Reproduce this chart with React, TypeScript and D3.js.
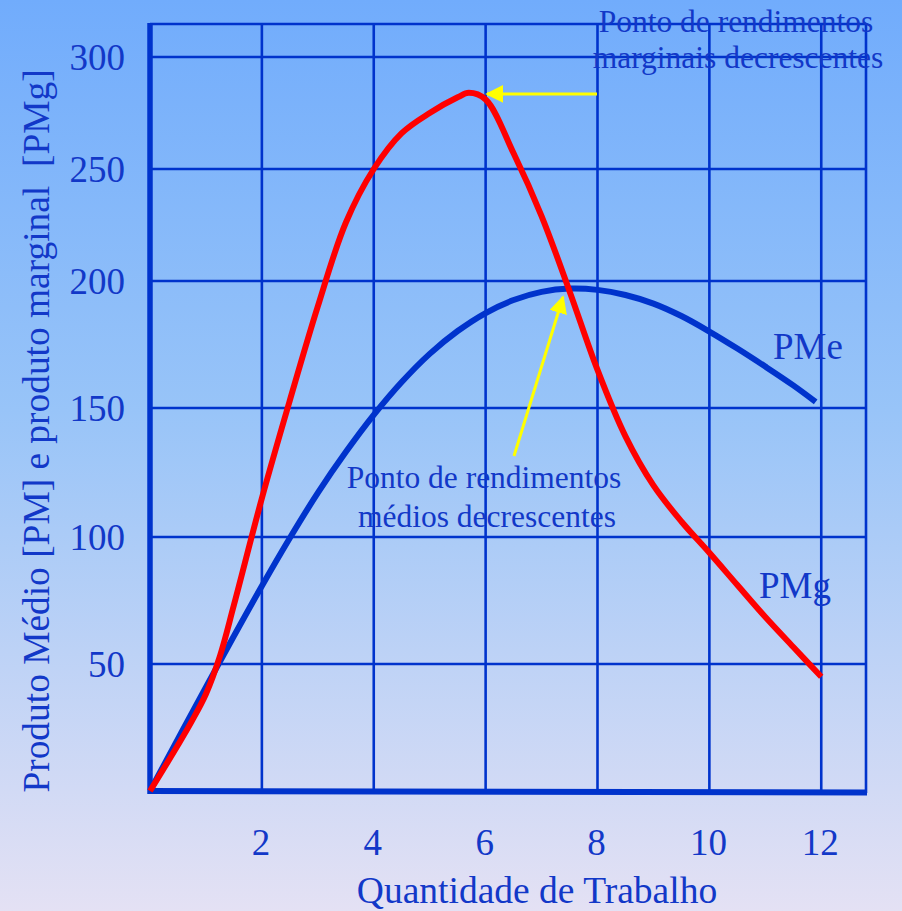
import React from "react";
import * as d3 from "d3";

const W = 902;
const H = 911;

// Data (x = quantidade de trabalho, value = produto)
const pmgX = [0, 0.5, 0.75, 1, 1.25, 1.5, 2, 2.5, 3, 3.5, 4, 4.5, 5, 5.5, 5.7, 6, 6.5, 7, 7.5, 8, 8.5, 9, 9.5, 10, 10.5, 11, 11.5, 12];
const pmgY = [0, 18.1, 27.6, 38.2, 53.1, 73.2, 115, 153, 190, 226, 250, 266, 275, 282, 284, 281, 257, 229, 196, 165, 139, 120, 106, 93.8, 81.1, 68.5, 56.7, 45];
const pmeX = [0, 0.5, 1, 1.5, 2, 2.5, 3, 3.5, 4, 4.5, 5, 5.5, 6, 6.5, 7, 7.5, 8, 8.5, 9, 9.5, 10, 10.5, 11, 11.5, 11.9];
const pmeY = [0, 20.5, 40.9, 61, 80.7, 99.6, 117.1, 132.9, 147.3, 160.2, 171.3, 180.3, 187.4, 192.5, 195.7, 197, 196.5, 194.5, 191.1, 186.2, 180.1, 173.4, 166.3, 158.9, 152.4];

const xTicks = [2, 4, 6, 8, 10, 12];
const yTicks = [50, 100, 150, 200, 250, 300];
const gridX = [2, 4, 6, 8, 10, 12];

const yTitle = "Produto Médio [PM] e produto marginal\u00a0\u00a0[PMg]";
const xTitle = "Quantidade de Trabalho";
const noteTop = ["Ponto de rendimentos", "marginais decrescentes"];
const noteMid = ["Ponto de rendimentos", "médios decrescentes"];

const BLUE = "#0033cc";
const TEXT = "#1238c8";
const FONT = "'Liberation Serif', 'Times New Roman', serif";

export default function App() {
  const x = d3.scaleLinear().domain([0, 12.8]).range([150, 866]);
  // the original grid is not uniform: piecewise scale
  const y = d3
    .scaleLinear()
    .domain([0, 50, 100, 150, 200, 250, 300, 315])
    .range([791, 664, 537, 408, 281, 169, 57, 24]);

  const line = d3
    .line<[number, number]>()
    .x((d) => x(d[0]))
    .y((d) => y(d[1]))
    .curve(d3.curveCatmullRom.alpha(0.5));

  const pmg = pmgX.map((v, i) => [v, pmgY[i]] as [number, number]);
  const pme = pmeX.map((v, i) => [v, pmeY[i]] as [number, number]);

  const x0 = x(0);
  const x1 = x(12.8);
  const yTop = y(315);
  const yBot = y(0);

  return (
    <svg
      width={W}
      height={H}
      viewBox={`0 0 ${W} ${H}`}
      style={{ position: "fixed", left: 0, top: 0, display: "block" }}
    >
      <defs>
        <linearGradient id="bg" x1="0" y1="0" x2="0" y2="1">
          <stop offset="0%" stopColor="#71acfc" />
          <stop offset="45%" stopColor="#98c4f8" />
          <stop offset="100%" stopColor="#e4e1f4" />
        </linearGradient>
        <marker id="arrY" viewBox="0 0 10 10" refX="9" refY="5" markerWidth="6" markerHeight="6" orient="auto" markerUnits="strokeWidth">
          <path d="M0,0 L10,5 L0,10 z" fill="#ffff00" />
        </marker>
      </defs>
      <rect x={0} y={0} width={W} height={H} fill="url(#bg)" />

      {/* grid */}
      <g stroke={BLUE} strokeWidth={2.6}>
        {yTicks.map((t) => (
          <line key={"h" + t} x1={x0} x2={x1} y1={y(t)} y2={y(t)} />
        ))}
        <line x1={x0} x2={x1} y1={yTop} y2={yTop} />
        {gridX.map((t) => (
          <line key={"v" + t} x1={x(t)} x2={x(t)} y1={yTop} y2={yBot} />
        ))}
        <line x1={x1} x2={x1} y1={yTop} y2={yBot + 2} />
      </g>
      {/* axes */}
      <line x1={x0} x2={x0} y1={yTop - 1} y2={yBot + 3} stroke={BLUE} strokeWidth={5.5} />
      <line x1={x0} x2={x1 + 1} y1={yBot} y2={yBot + 1.5} stroke={BLUE} strokeWidth={6} />

      {/* curves */}
      <path d={line(pme) || ""} fill="none" stroke={BLUE} strokeWidth={6} strokeLinecap="butt" />
      <path d={line(pmg) || ""} fill="none" stroke="#ff0000" strokeWidth={6} strokeLinecap="butt" />

      {/* tick labels */}
      <g fill={TEXT} fontFamily={FONT} fontSize={37}>
        {yTicks.map((t) => (
          <text key={"yl" + t} x={125} y={y(t)} dy="0.34em" textAnchor="end">
            {t}
          </text>
        ))}
        {xTicks.map((t) => (
          <text key={"xl" + t} x={x(t) - 1} y={855} textAnchor="middle">
            {t}
          </text>
        ))}
        <text x={537} y={903} textAnchor="middle" fontSize={37.5}>
          {xTitle}
        </text>
        <text transform="translate(49,431) rotate(-90)" textAnchor="middle" fontSize={37.4}>
          {yTitle}
        </text>
        <text x={773} y={359}>PMe</text>
        <text x={759} y={598}>PMg</text>
      </g>

      {/* annotations */}
      <g fill={TEXT} fontFamily={FONT} fontSize={31.5} textAnchor="middle">
        <text x={736} y={32}>{noteTop[0]}</text>
        <text x={738} y={68}>{noteTop[1]}</text>
        <text x={484} y={488}>{noteMid[0]}</text>
        <text x={487} y={527}>{noteMid[1]}</text>
      </g>

      {/* yellow arrows */}
      <line x1={597} y1={y(283.5)} x2={487} y2={y(283.5)} stroke="#ffff00" strokeWidth={3} markerEnd="url(#arrY)" />
      <line x1={514} y1={456} x2={563} y2={297} stroke="#ffff00" strokeWidth={3} markerEnd="url(#arrY)" />
    </svg>
  );
}
